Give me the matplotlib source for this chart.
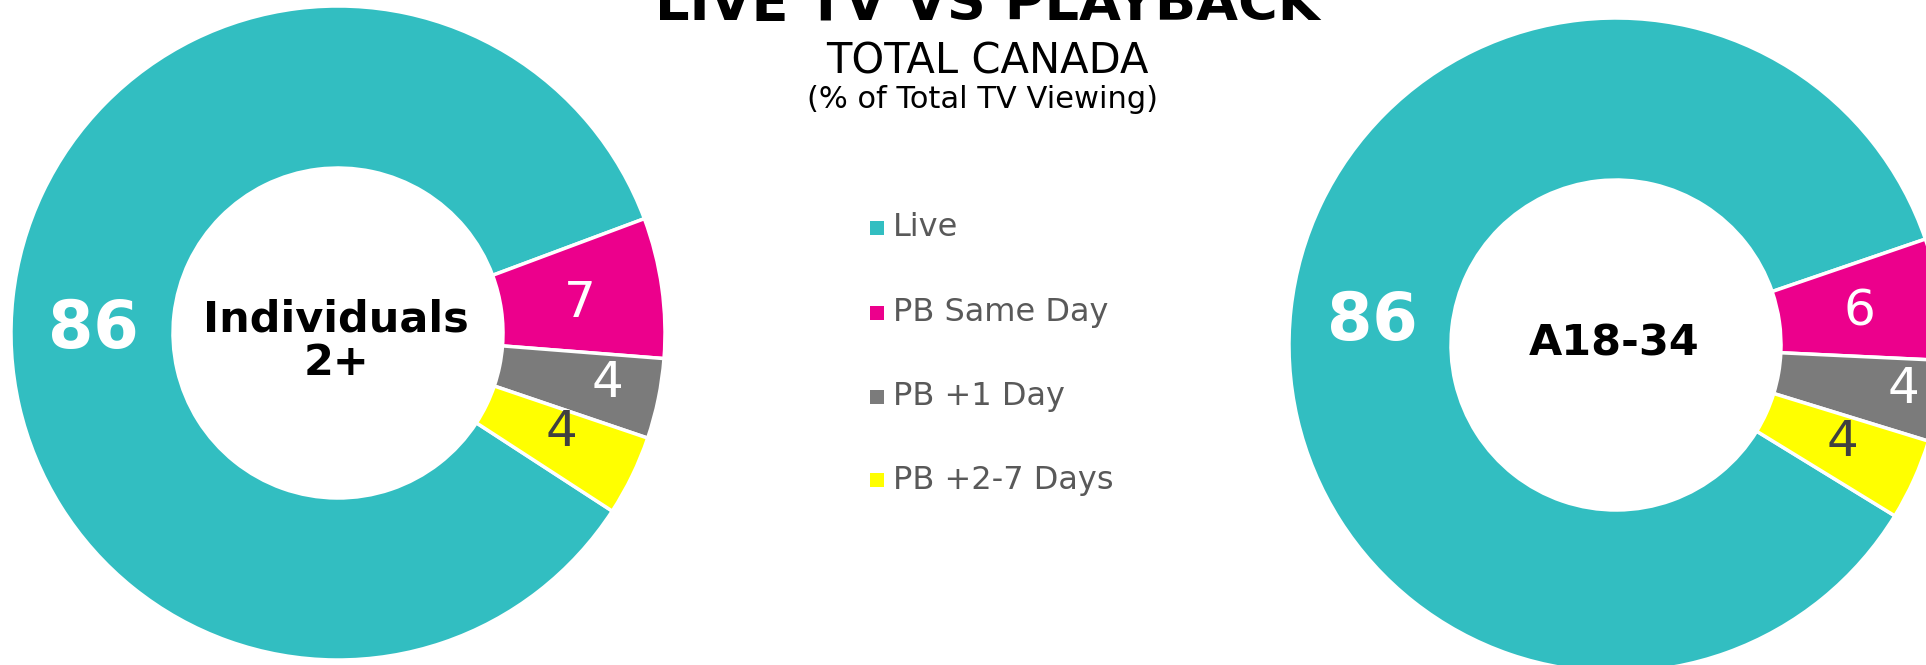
import numpy as np
import matplotlib

matplotlib.use("Agg")
import matplotlib.pyplot as plt

# share of total TV viewing (%)
categories = ["Live", "PB Same Day", "PB +1 Day", "PB +2-7 Days"]
indiv_2plus = [86, 7, 4, 4]
a18_34 = [86, 6, 4, 4]

colors = ["#32BEC1", "#EC008C", "#7B7B7B", "#FFFF00"]
label_colors = ["white", "white", "white", "#404040"]

W, H = 1926, 665
plt.rcParams["font.family"] = ["DejaVu Sans"]
fig = plt.figure(figsize=(W / 100, H / 100), dpi=100)
ax = fig.add_axes([0, 0, 1, 1])

R_OUT, R_IN = 327, 165


def donut(values, cx, cy, start, centre_text, text_dy, label_r, label_dth):
    wedges, _ = ax.pie(
        values, colors=colors, startangle=start, counterclock=False,
        center=(cx, cy), radius=R_OUT, frame=True,
        wedgeprops=dict(width=R_OUT - R_IN, edgecolor="white", linewidth=2.5),
    )
    # value labels sit in the ring, nudged a little like the original
    for i, (w, v) in enumerate(zip(wedges, values)):
        mid = np.deg2rad((w.theta1 + w.theta2) / 2 + label_dth[i])
        r = label_r[i]
        x, y = cx + r * np.cos(mid), cy + r * np.sin(mid) - 4
        if i == 0:
            ax.text(x, y, str(v), ha="center", va="center", fontsize=47,
                    fontweight="bold", color="white")
        else:
            ax.text(x, y, str(v), ha="center", va="center", fontsize=36,
                    color=label_colors[i])
    ax.text(cx - 2, cy + text_dy, centre_text, ha="center", va="center",
            fontsize=31, fontweight="bold", color="black", linespacing=1.05)
    return wedges


donut(indiv_2plus, 338, H - 333, -33.0, "Individuals\n2+", -8,
      [245, 244, 273, 243], [4.6, 0, 2, 2.8])
donut(a18_34, 1616, H - 345, -31.5, "A18-34", 2,
      [245, 246, 290, 245], [0, 0.6, 2, 2])

# titles (top line is clipped by the frame, as in the original)
ax.text(987, H - 20, "LIVE TV VS PLAYBACK", ha="center", va="baseline",
        fontsize=39, fontweight="bold", color="black")
ax.text(987, H - 73, "TOTAL CANADA", ha="center", va="baseline",
        fontsize=30, color="black")
ax.text(982, H - 108, "(% of Total TV Viewing)", ha="center", va="baseline",
        fontsize=22, color="black")

# legend
leg_y = [228, 313, 397, 480]
for name, col, y in zip(categories, colors, leg_y):
    ax.scatter([877], [H - y], marker="s", s=100, color=col, linewidths=0)
    ax.text(893, H - y, name, ha="left", va="center", fontsize=23,
            color="#595959")

ax.set_xlim(0, W)
ax.set_ylim(0, H)
ax.set_aspect("equal")
ax.axis("off")

fig.savefig("out.png", dpi=100)
